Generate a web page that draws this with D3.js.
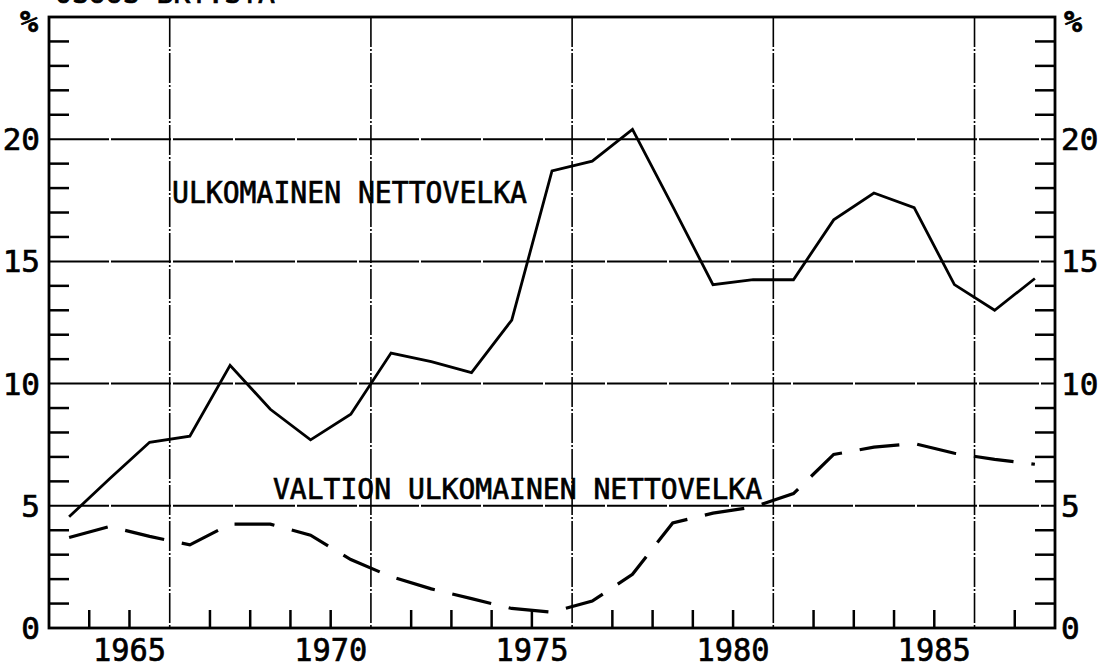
<!DOCTYPE html>
<html lang="fi">
	<head>
		<meta charset="utf-8">
		<title>Ulkomainen nettovelka</title>
		<script type="text/javascript" src="https://cdn.jsdelivr.net/npm/d3@7"></script>
		<style type="text/css">
			body {
				margin: 0;
				background: white;
			}
			text {
				font-family: "DejaVu Sans Mono", monospace;
				fill: black;
				stroke: black;
				stroke-width: 0.7px;
			}
		</style>
	</head>
	<body>
		<script type="text/javascript">

			//Data (year, % value)
			var years = [1963, 1964, 1965, 1966, 1967, 1968, 1969, 1970, 1971, 1972,
						 1973, 1974, 1975, 1976, 1977, 1978, 1979, 1980, 1981, 1982,
						 1983, 1984, 1985, 1986, 1987];

			var netDebt = [4.55, 6.1, 7.6, 7.85, 10.75, 8.95, 7.7, 8.75, 11.25, 10.9,
						   10.45, 12.6, 18.7, 19.1, 20.4, 17.25, 14.05, 14.25, 14.25, 16.7,
						   17.8, 17.2, 14.05, 13.0, 14.3];

			var govDebt = [3.7, 4.15, 3.75, 3.4, 4.25, 4.25, 3.8, 2.8, 2.1, 1.6,
						   1.2, 0.8, 0.65, 1.1, 2.2, 4.3, 4.7, 4.95, 5.5, 7.1,
						   7.4, 7.55, 7.15, 6.9, 6.7];

			var yearLabels = [1965, 1970, 1975, 1980, 1985];
			var yLabels = [0, 5, 10, 15, 20];
			var gridYears = [1966, 1971, 1976, 1981, 1986];

			var seriesNames = ["ULKOMAINEN NETTOVELKA", "VALTION ULKOMAINEN NETTOVELKA"];
			var titleText = "OSUUS BKT:STA";

			//Width and height (plot box edges)
			var w = 1103;
			var h = 668;
			var padL = 49, padR = 1055, padT = 17, padB = 628;

			var xScale = d3.scaleLinear()
							.domain([1963, 1988])
							.range([padL, padR]);

			var yScale = d3.scaleLinear()
							.domain([0, 25])
							.range([padB, padT]);

			//Create SVG element
			var svg = d3.select("body")
						.append("svg")
						.attr("width", w)
						.attr("height", h);

			//Cut-off title at the very top
			svg.append("text")
			   .attr("x", 55)
			   .attr("y", 3)
			   .attr("font-size", "30px")
			   .attr("textLength", 220)
			   .attr("lengthAdjust", "spacingAndGlyphs")
			   .text(titleText);

			//Horizontal grid lines
			svg.selectAll("line.hgrid")
			   .data(yLabels.filter(function(d) { return d > 0; }))
			   .enter()
			   .append("line")
			   .attr("class", "hgrid")
			   .attr("x1", padL)
			   .attr("x2", padR)
			   .attr("y1", function(d) { return yScale(d); })
			   .attr("y2", function(d) { return yScale(d); })
			   .attr("stroke", "black")
			   .attr("stroke-width", 2)
			   .attr("stroke-dasharray", "60,2");

			//Vertical grid lines
			svg.selectAll("line.vgrid")
			   .data(gridYears)
			   .enter()
			   .append("line")
			   .attr("class", "vgrid")
			   .attr("x1", function(d) { return xScale(d); })
			   .attr("x2", function(d) { return xScale(d); })
			   .attr("y1", padT)
			   .attr("y2", padB)
			   .attr("stroke", "black")
			   .attr("stroke-width", 1.6)
			   .attr("stroke-dasharray", "30,2,2,2");

			//Minor ticks on left and right axes
			var yTicks = d3.range(1, 25).filter(function(d) { return d % 5 != 0; });

			svg.selectAll("line.lt")
			   .data(yTicks)
			   .enter()
			   .append("line")
			   .attr("class", "lt")
			   .attr("x1", padL)
			   .attr("x2", padL + 20)
			   .attr("y1", function(d) { return yScale(d); })
			   .attr("y2", function(d) { return yScale(d); })
			   .attr("stroke", "black")
			   .attr("stroke-width", 2.5);

			svg.selectAll("line.rt")
			   .data(yTicks)
			   .enter()
			   .append("line")
			   .attr("class", "rt")
			   .attr("x1", padR - 20)
			   .attr("x2", padR)
			   .attr("y1", function(d) { return yScale(d); })
			   .attr("y2", function(d) { return yScale(d); })
			   .attr("stroke", "black")
			   .attr("stroke-width", 2.5);

			//Year ticks along the bottom
			var xTicks = d3.range(1964, 1988).filter(function(d) { return gridYears.indexOf(d) < 0; });

			svg.selectAll("line.bt")
			   .data(xTicks)
			   .enter()
			   .append("line")
			   .attr("class", "bt")
			   .attr("x1", function(d) { return xScale(d); })
			   .attr("x2", function(d) { return xScale(d); })
			   .attr("y1", padB)
			   .attr("y2", padB - 18)
			   .attr("stroke", "black")
			   .attr("stroke-width", 2.5);

			//Frame
			svg.append("rect")
			   .attr("x", padL)
			   .attr("y", padT)
			   .attr("width", padR - padL)
			   .attr("height", padB - padT)
			   .attr("fill", "none")
			   .attr("stroke", "black")
			   .attr("stroke-width", 2.8);

			//Lines
			var line = d3.line()
						 .x(function(d, i) { return xScale(years[i] + 0.5); })
						 .y(function(d) { return yScale(d); });

			svg.append("path")
			   .datum(netDebt)
			   .attr("d", line)
			   .attr("fill", "none")
			   .attr("stroke", "black")
			   .attr("stroke-width", 2.8);

			svg.append("path")
			   .datum(govDebt)
			   .attr("d", line)
			   .attr("fill", "none")
			   .attr("stroke", "black")
			   .attr("stroke-width", 3.2)
			   .attr("stroke-dasharray", "40,18");

			//Series labels
			svg.append("text")
			   .attr("x", 172)
			   .attr("y", 203)
			   .attr("font-size", "30px")
			   .attr("textLength", 355)
			   .attr("lengthAdjust", "spacingAndGlyphs")
			   .text(seriesNames[0]);

			svg.append("text")
			   .attr("x", 273)
			   .attr("y", 499)
			   .attr("font-size", "29px")
			   .attr("textLength", 489)
			   .attr("lengthAdjust", "spacingAndGlyphs")
			   .text(seriesNames[1]);

			//Y labels, both sides
			svg.selectAll("text.yl")
			   .data(yLabels)
			   .enter()
			   .append("text")
			   .attr("class", "yl")
			   .attr("x", 40)
			   .attr("y", function(d) { return yScale(d) + 11; })
			   .attr("text-anchor", "end")
			   .attr("font-size", "31px")
			   .text(function(d) { return d; });

			svg.selectAll("text.yr")
			   .data(yLabels)
			   .enter()
			   .append("text")
			   .attr("class", "yr")
			   .attr("x", 1061)
			   .attr("y", function(d) { return yScale(d) + 11; })
			   .attr("font-size", "31px")
			   .text(function(d) { return d; });

			//Percent signs
			svg.append("text")
			   .attr("x", 29)
			   .attr("y", 32)
			   .attr("text-anchor", "middle")
			   .attr("font-size", "30px")
			   .attr("font-weight", "bold")
			   .text("%");

			svg.append("text")
			   .attr("x", 1073)
			   .attr("y", 32)
			   .attr("text-anchor", "middle")
			   .attr("font-size", "30px")
			   .attr("font-weight", "bold")
			   .text("%");

			//Year labels
			svg.selectAll("text.xl")
			   .data(yearLabels)
			   .enter()
			   .append("text")
			   .attr("class", "xl")
			   .attr("x", function(d) { return xScale(d); })
			   .attr("y", 661)
			   .attr("text-anchor", "middle")
			   .attr("font-size", "32px")
			   .attr("textLength", 73)
			   .attr("lengthAdjust", "spacingAndGlyphs")
			   .text(function(d) { return d; });

		</script>
	</body>
</html>
